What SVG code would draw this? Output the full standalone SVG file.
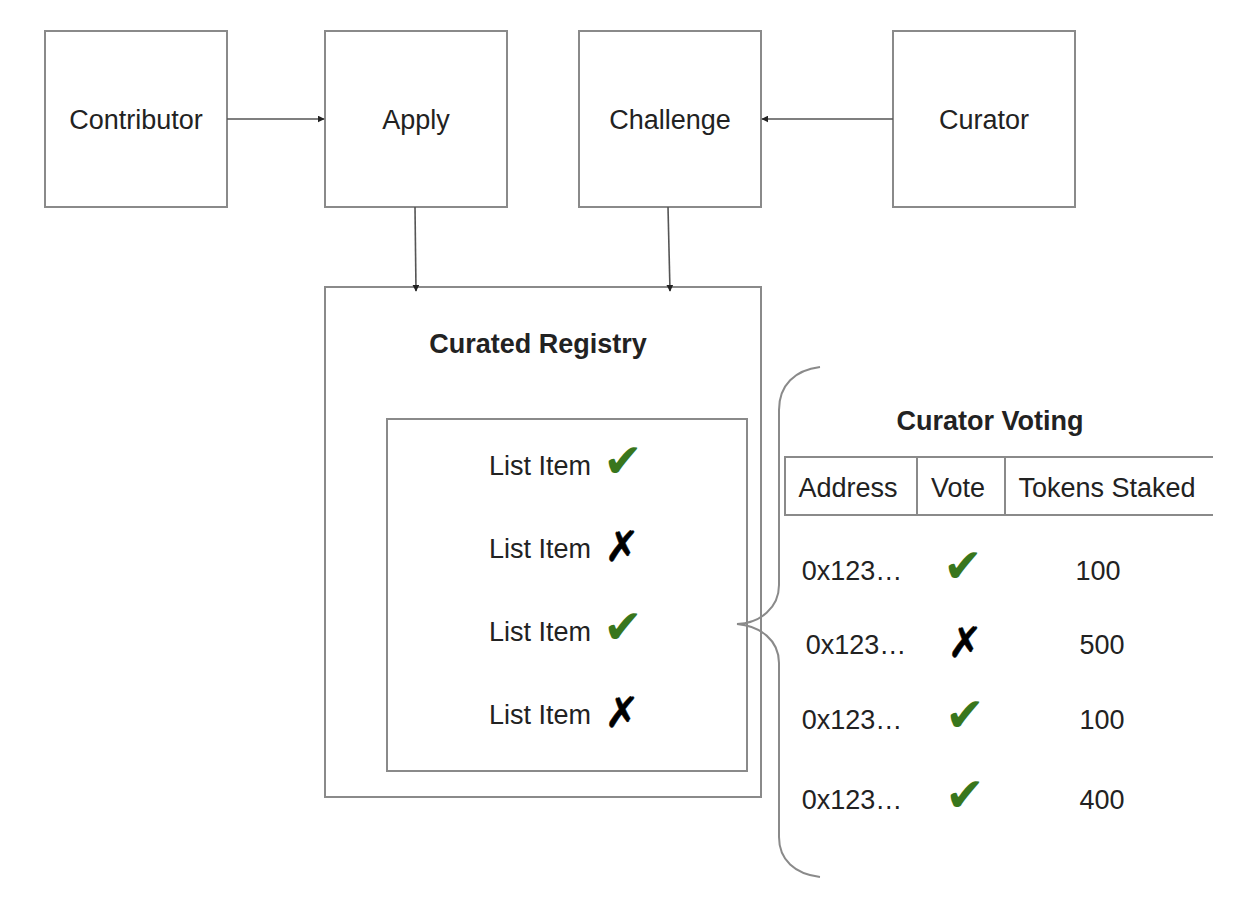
<svg xmlns="http://www.w3.org/2000/svg" width="1248" height="912" viewBox="0 0 1248 912">
<defs>
<style>
.box{fill:#fff;stroke:#8a8a8a;stroke-width:2}
.t{font-family:"Liberation Sans",Arial,sans-serif;font-size:27px;fill:#222;text-anchor:middle}
.b{font-weight:bold}
.ln{stroke:#555;stroke-width:1.6;fill:none}
.tl{stroke:#8a8a8a;stroke-width:2;fill:none}
.ok{font-family:"DejaVu Sans",sans-serif;font-size:47px;fill:#38761d;text-anchor:middle}
.no{font-family:"DejaVu Sans",sans-serif;font-size:42px;fill:#000;stroke:#000;stroke-width:0.5;text-anchor:middle}
</style>
<marker id="ah" viewBox="0 0 10 10" refX="9" refY="5" markerWidth="7" markerHeight="7" markerUnits="userSpaceOnUse" orient="auto">
<path d="M0,0 L10,5 L0,10 z" fill="#222"/>
</marker>
</defs>
<rect width="1248" height="912" fill="#fff"/>

<g id="contributor"><rect class="box" x="45" y="31" width="182" height="176"/><text class="t" x="136" y="129">Contributor</text></g>
<g id="apply"><rect class="box" x="325" y="31" width="182" height="176"/><text class="t" x="416" y="129">Apply</text></g>
<g id="challenge"><rect class="box" x="579" y="31" width="182" height="176"/><text class="t" x="670" y="129">Challenge</text></g>
<g id="curator"><rect class="box" x="893" y="31" width="182" height="176"/><text class="t" x="984" y="129">Curator</text></g>

<g id="registry">
<rect class="box" x="325" y="287" width="436" height="510"/>
<text class="t b" x="538" y="353">Curated Registry</text>
</g>
<g id="list">
<rect class="box" x="387" y="419" width="360" height="352"/>
<text class="t" x="540" y="475">List Item</text><text class="ok" x="623" y="477">✔</text>
<text class="t" x="540" y="558">List Item</text><text class="no" x="622" y="561">✗</text>
<text class="t" x="540" y="641">List Item</text><text class="ok" x="623" y="643">✔</text>
<text class="t" x="540" y="724">List Item</text><text class="no" x="622" y="727">✗</text>
</g>

<g id="connectors">
<line class="ln" x1="227" y1="119" x2="324" y2="119" marker-end="url(#ah)"/>
<line class="ln" x1="893" y1="119" x2="762" y2="119" marker-end="url(#ah)"/>
<line class="ln" x1="415" y1="207" x2="416" y2="291" marker-end="url(#ah)"/>
<line class="ln" x1="668" y1="207" x2="670" y2="291" marker-end="url(#ah)"/>
<path class="tl" d="M820,367 C795,370 779,385 779,410 L779,585 C779,608 760,623 737,624 C760,626 779,640 779,663 L779,837 C779,860 795,874 820,877"/>
</g>

<g id="voting">
<text class="t b" x="990" y="430">Curator Voting</text>
<line class="tl" x1="784" y1="457" x2="1213" y2="457"/>
<line class="tl" x1="784" y1="515" x2="1213" y2="515"/>
<line class="tl" x1="785" y1="457" x2="785" y2="515"/>
<line class="tl" x1="917" y1="457" x2="917" y2="515"/>
<line class="tl" x1="1005" y1="457" x2="1005" y2="515"/>
<text class="t" x="848" y="497">Address</text>
<text class="t" x="958" y="497">Vote</text>
<text class="t" x="1107" y="497">Tokens Staked</text>

<text class="t" x="852" y="580">0x123…</text><text class="ok" x="963" y="582">✔</text><text class="t" x="1098" y="580">100</text>
<text class="t" x="856" y="654">0x123…</text><text class="no" x="965" y="657">✗</text><text class="t" x="1102" y="654">500</text>
<text class="t" x="852" y="729">0x123…</text><text class="ok" x="965" y="731">✔</text><text class="t" x="1102" y="729">100</text>
<text class="t" x="852" y="809">0x123…</text><text class="ok" x="965" y="811">✔</text><text class="t" x="1102" y="809">400</text>
</g>
</svg>
